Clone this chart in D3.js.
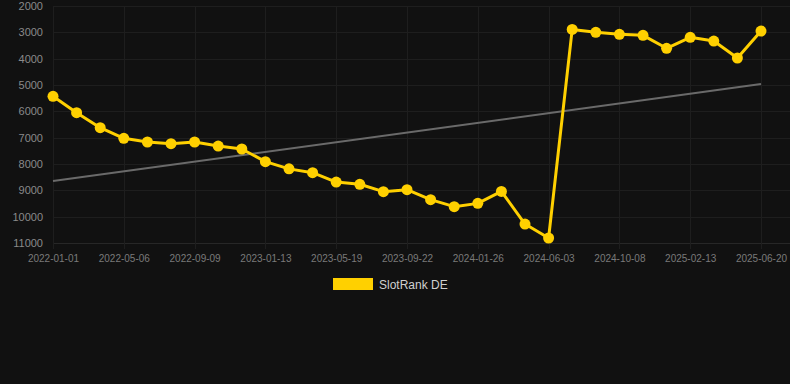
<!DOCTYPE html>
<html>
<head>
<meta charset="utf-8">
<script src="https://cdn.jsdelivr.net/npm/d3@7"></script>
<style>
  html, body { margin: 0; padding: 0; background: #111111; }
  svg { display: block; }
</style>
</head>
<body>
<svg id="chart" width="790" height="384"></svg>
<script>
const dates = [
  "2022-01-01","2022-02-12","2022-03-25","2022-05-06","2022-06-17","2022-07-29",
  "2022-09-09","2022-10-21","2022-12-02","2023-01-13","2023-02-24","2023-04-07",
  "2023-05-19","2023-06-30","2023-08-11","2023-09-22","2023-11-03","2023-12-15",
  "2024-01-26","2024-03-08","2024-04-22","2024-06-03","2024-07-15","2024-08-26",
  "2024-10-08","2024-11-19","2024-12-31","2025-02-13","2025-03-27","2025-05-08",
  "2025-06-20"
];
const rankValues = [
  5430, 6050, 6620, 7025, 7165, 7230,
  7165, 7317, 7430, 7910, 8185, 8330,
  8685, 8770, 9050, 8975, 9355, 9620,
  9495, 9040, 10280, 10810, 2890, 3000,
  3075, 3115, 3605, 3190, 3330, 3975,
  2950
];
const trendValues = [8646, 4962];
const yTicks = [2000, 3000, 4000, 5000, 6000, 7000, 8000, 9000, 10000, 11000];
const xTickLabels = ["2022-01-01","2022-05-06","2022-09-09","2023-01-13","2023-05-19",
  "2023-09-22","2024-01-26","2024-06-03","2024-10-08","2025-02-13","2025-06-20"];
const seriesName = "SlotRank DE";

const svg = d3.select("#chart");
const W = 790;
const x = d3.scalePoint().domain(dates).range([53, 761]);
const y = d3.scaleLinear().domain([2000, 11000]).range([6, 243]);

const gridColor = "#1e1e1e";
// horizontal grid
svg.append("g").selectAll("line").data(yTicks).join("line")
  .attr("x1", 53).attr("x2", W)
  .attr("y1", d => Math.round(y(d)) + 0.5).attr("y2", d => Math.round(y(d)) + 0.5)
  .attr("stroke", d => d === 11000 ? "#272727" : gridColor).attr("stroke-width", 1);
// vertical grid
svg.append("g").selectAll("line").data(xTickLabels).join("line")
  .attr("x1", d => Math.round(x(d)) + 0.5).attr("x2", d => Math.round(x(d)) + 0.5)
  .attr("y1", 6).attr("y2", 249)
  .attr("stroke", gridColor).attr("stroke-width", 1);

// y labels
const yAxis = d3.axisLeft(y).tickValues(yTicks).tickSize(0).tickPadding(0).tickFormat(d3.format("d"));
const gy = svg.append("g").attr("transform", "translate(43,0)").call(yAxis);
gy.select(".domain").remove();
gy.selectAll("text").attr("fill", "#8a8a8a").attr("font-family", "Arial, 'Liberation Sans', sans-serif").attr("font-size", 11);

// x labels
const xAxis = d3.axisBottom(x).tickValues(xTickLabels).tickSize(0).tickPadding(0);
const gx = svg.append("g").attr("transform", "translate(0,255)").call(xAxis);
gx.select(".domain").remove();
gx.selectAll("text").attr("fill", "#7a7a7a").attr("font-family", "Arial, 'Liberation Sans', sans-serif").attr("font-size", 10).attr("dy", "0.71em");

// trend line
svg.append("line")
  .attr("x1", x(dates[0])).attr("x2", x(dates[dates.length - 1]))
  .attr("y1", y(trendValues[0])).attr("y2", y(trendValues[1]))
  .attr("stroke", "#6a6a6a").attr("stroke-width", 2);

const color = "#FFD000";
const line = d3.line().x((d, i) => x(dates[i])).y(d => y(d));
svg.append("path").datum(rankValues)
  .attr("d", line).attr("fill", "none")
  .attr("stroke", color).attr("stroke-width", 3).attr("stroke-linejoin", "round");
svg.append("g").selectAll("circle").data(rankValues).join("circle")
  .attr("cx", (d, i) => x(dates[i])).attr("cy", d => y(d)).attr("r", 5.5)
  .attr("fill", color);

// legend
const lg = svg.append("g");
lg.append("rect").attr("x", 333).attr("y", 278).attr("width", 40).attr("height", 12).attr("fill", color);
lg.append("text").attr("x", 379).attr("y", 288.5).text(seriesName)
  .attr("fill", "#d0d0d0").attr("font-family", "Arial, 'Liberation Sans', sans-serif").attr("font-size", 12);
</script>
</body>
</html>
